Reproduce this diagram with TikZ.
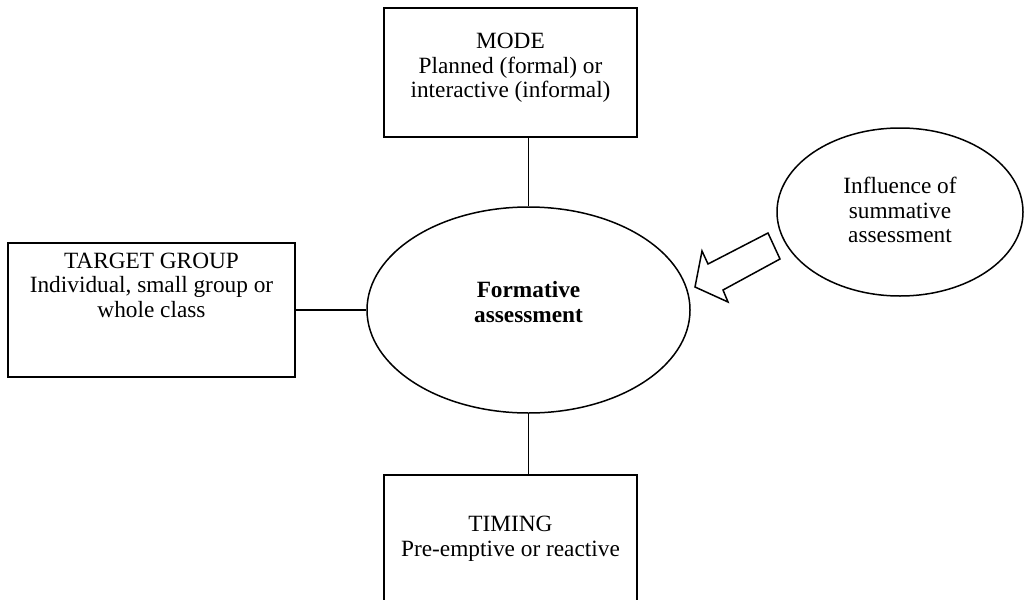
\documentclass[tikz,border=0pt]{standalone}
\usepackage{fontspec}
\setmainfont{Liberation Serif}
\usetikzlibrary{shapes.geometric}
\begin{document}
\begin{tikzpicture}[x=1pt,y=-1pt,
  box/.style={draw, line width=1.5pt, rectangle, inner sep=0pt},
  oval/.style={draw, line width=1.5pt, ellipse, inner sep=0pt},
  txt/.style={font=\fontsize{23.3}{24.5}\selectfont, align=center, inner sep=0pt},
  link/.style={line width=1.5pt}]
\clip (0,0) rectangle (1032,599);
% boxes and ovals
\node[box, minimum width=253pt, minimum height=129pt] (mode) at (510.5,72.5) {};
\node[txt] (modetxt) at (510.5,68) {MODE\\Planned (formal) or\\interactive (informal)};
\node[oval, minimum width=323pt, minimum height=206pt] (form) at (528.5,310) {};
\node[txt, font=\fontsize{23.3}{24.5}\selectfont\bfseries] (formtxt) at (528.5,302) {Formative\\assessment};
\node[box, minimum width=287pt, minimum height=134pt] (tg) at (151.5,310) {};
\node[txt] (tgtxt) at (151.5,285) {TARGET GROUP\\Individual, small group or\\whole class};
\node[box, minimum width=253pt, minimum height=160pt] (timing) at (510.5,555) {};
\node[txt] (timingtxt) at (510.5,539) {TIMING\\Pre-emptive or reactive};
\node[oval, minimum width=246pt, minimum height=168pt] (infl) at (900,212) {};
\node[txt] (infltxt) at (900,210) {Influence of\\summative\\assessment};
% connectors
\draw[link] (form.north |- mode.south) -- (form.north);
\draw[link] (tg.east |- form.west) -- (form.west);
\draw[link] (form.south) -- (form.south |- timing.north);
% block arrow
\draw[link, line join=miter] (695,287) -- (702,251) -- (708,264) -- (768,233) -- (780,259) -- (723,290) -- (728,302) -- cycle;
\end{tikzpicture}
\end{document}
